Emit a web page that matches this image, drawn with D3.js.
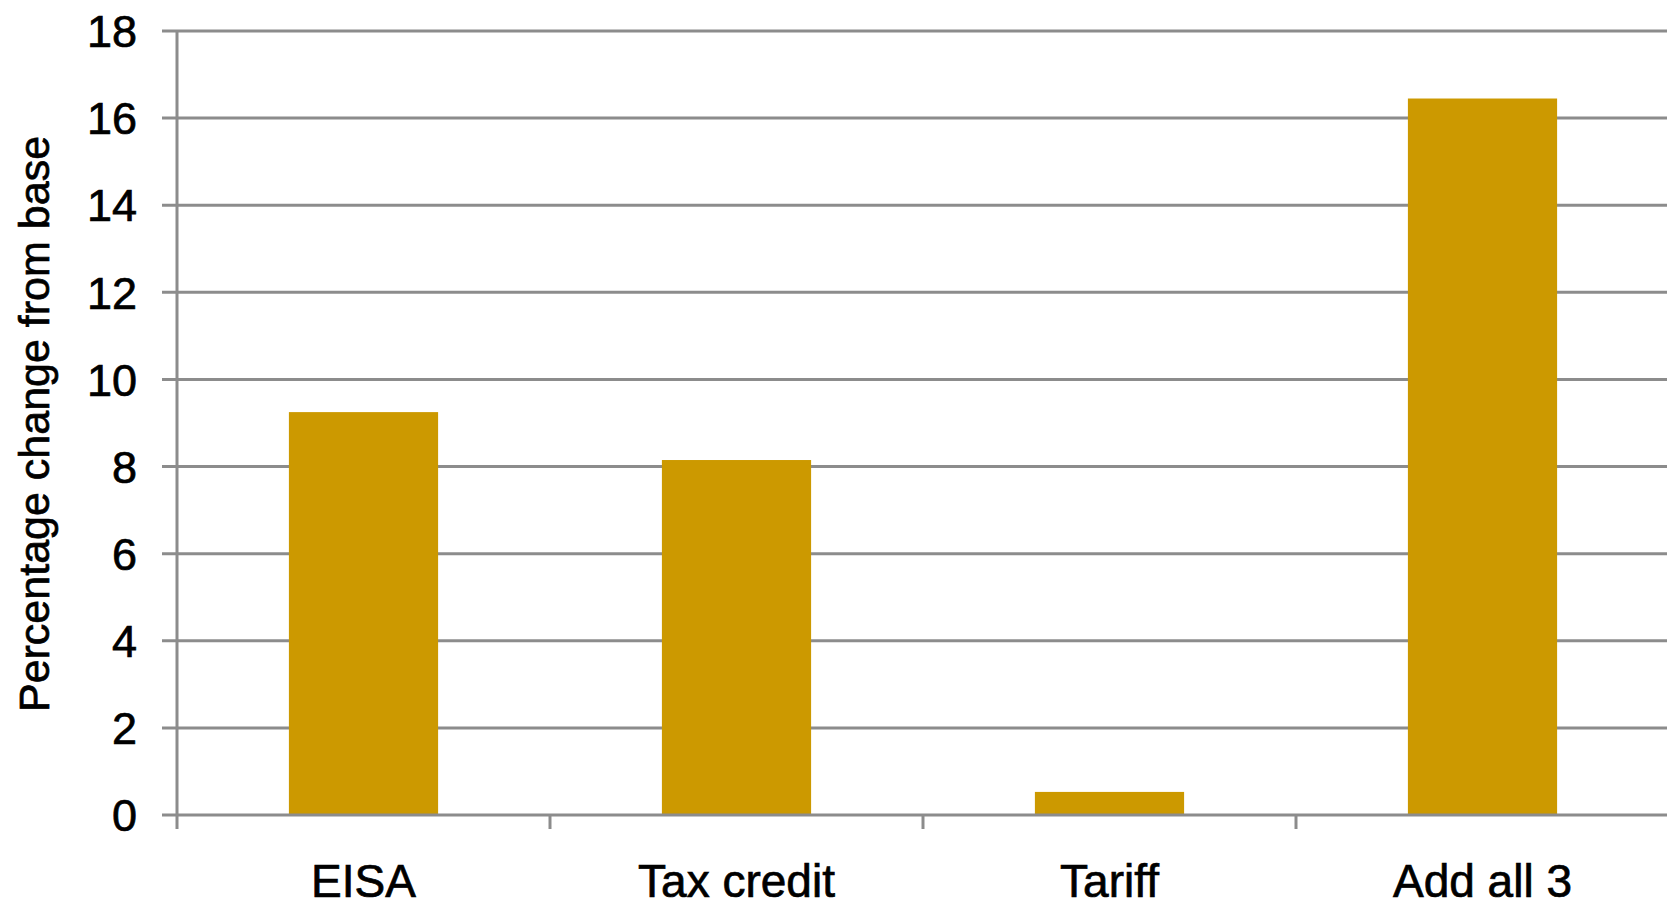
<!DOCTYPE html>
<html>
<head>
<meta charset="utf-8">
<script src="https://cdn.jsdelivr.net/npm/d3@7"></script>
<style>
  html, body { margin: 0; padding: 0; background: #ffffff; }
  svg { display: block; }
  text { font-family: "Liberation Sans", Arial, sans-serif; fill: #000; stroke: #000; stroke-width: 0.7px; }
</style>
</head>
<body>
<svg id="chart" width="1667" height="906"></svg>
<script>
// Percentage change from base, by policy scenario
const categories = ["EISA", "Tax credit", "Tariff", "Add all 3"];
const values = [9.25, 8.15, 0.53, 16.45];
const yTicks = [0, 2, 4, 6, 8, 10, 12, 14, 16, 18];
const yTitle = "Percentage change from base";

const svg = d3.select("#chart");
const plotLeft = 177, plotRight = 1669, plotTop = 31, plotBottom = 815;
const gridColor = "#8c8c8c";

const x = d3.scaleBand()
  .domain(categories)
  .range([plotLeft, plotRight])
  .paddingInner(0.6)
  .paddingOuter(0.3);

const y = d3.scaleLinear()
  .domain([0, 18])
  .range([plotBottom, plotTop]);

// Horizontal gridlines (extend slightly left of the axis as tick marks)
svg.append("g")
  .selectAll("line")
  .data(yTicks.filter(d => d !== 0))
  .join("line")
  .attr("x1", plotLeft - 15)
  .attr("x2", 1667)
  .attr("y1", d => y(d))
  .attr("y2", d => y(d))
  .attr("stroke", gridColor)
  .attr("stroke-width", 3);

// Bars
svg.append("g")
  .selectAll("rect")
  .data(categories.map((c, i) => ({ c, v: values[i] })))
  .join("rect")
  .attr("x", d => x(d.c))
  .attr("width", x.bandwidth())
  .attr("y", d => y(d.v))
  .attr("height", d => y(0) - y(d.v))
  .attr("fill", "#cc9900");

// Y axis line
svg.append("line")
  .attr("x1", plotLeft).attr("x2", plotLeft)
  .attr("y1", y(18)).attr("y2", plotBottom + 14)
  .attr("stroke", gridColor)
  .attr("stroke-width", 3);

// X axis (zero line) with category boundary ticks
svg.append("line")
  .attr("x1", plotLeft - 15).attr("x2", 1667)
  .attr("y1", y(0)).attr("y2", y(0))
  .attr("stroke", gridColor)
  .attr("stroke-width", 3);

const step = x.step();
const boundaries = categories.map((c, i) => plotLeft + i * step).slice(1);
svg.append("g")
  .selectAll("line")
  .data(boundaries)
  .join("line")
  .attr("x1", d => d).attr("x2", d => d)
  .attr("y1", y(0)).attr("y2", y(0) + 14)
  .attr("stroke", gridColor)
  .attr("stroke-width", 3);

// Y tick labels
svg.append("g")
  .selectAll("text")
  .data(yTicks)
  .join("text")
  .attr("x", plotLeft - 40)
  .attr("y", d => y(d))
  .attr("dy", "0.36em")
  .attr("text-anchor", "end")
  .attr("font-size", 45)
  .text(d => d);

// Category labels
svg.append("g")
  .selectAll("text")
  .data(categories)
  .join("text")
  .attr("x", d => x(d) + x.bandwidth() / 2)
  .attr("y", 897)
  .attr("text-anchor", "middle")
  .attr("font-size", 46)
  .text(d => d);

// Y axis title
svg.append("text")
  .attr("transform", `translate(49, ${424}) rotate(-90)`)
  .attr("text-anchor", "middle")
  .attr("font-size", 43)
  .text(yTitle);
</script>
</body>
</html>
